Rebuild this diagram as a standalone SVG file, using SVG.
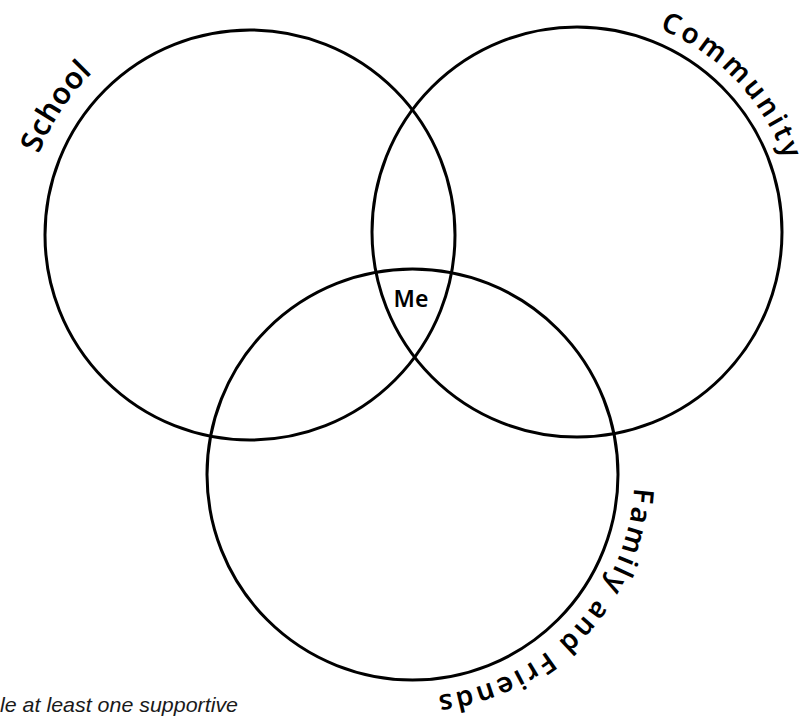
<svg xmlns="http://www.w3.org/2000/svg" width="810" height="722" viewBox="0 0 810 722">
  <style>
    .ring { fill: none; stroke: #000; stroke-width: 3; }
    .label { font-family: "Noto Sans", "DejaVu Sans", sans-serif; font-weight: 600; fill: #000; }
    .note { font-family: "Liberation Sans", Arial, sans-serif; font-style: italic; fill: #1a1a1a; }
  </style>
  <defs>
    <path id="p-school" d="M39.0,154.0 A226,226 0 0 1 93.0,72.4"/>
    <path id="p-community" d="M659.4,29.0 A220,220 0 0 1 785.0,161.4"/>
    <path id="p-family" d="M634.1,487.7 A222,222 0 0 1 436.1,695.2"/>
  </defs>
  <rect width="810" height="722" fill="#fff"/>
  <g id="school">
    <circle class="ring" cx="250" cy="235" r="205"/>
    <text class="label" font-size="30"><textPath href="#p-school" textLength="98" lengthAdjust="spacing">School</textPath></text>
  </g>
  <g id="community">
    <circle class="ring" cx="577" cy="232" r="205"/>
    <text class="label" font-size="28"><textPath href="#p-community" textLength="186" lengthAdjust="spacing">Community</textPath></text>
  </g>
  <g id="family">
    <circle class="ring" cx="412.5" cy="474.5" r="205.5"/>
    <text class="label" font-size="28"><textPath href="#p-family" textLength="310" lengthAdjust="spacing">Family and Friends</textPath></text>
  </g>
  <g id="me">
    <text class="label" font-size="23" x="411" y="307" text-anchor="middle">Me</text>
  </g>
  <g id="connectors"></g>
  <text class="note" font-size="21" x="0" y="712" textLength="238" lengthAdjust="spacingAndGlyphs">le at least one supportive</text>
</svg>
